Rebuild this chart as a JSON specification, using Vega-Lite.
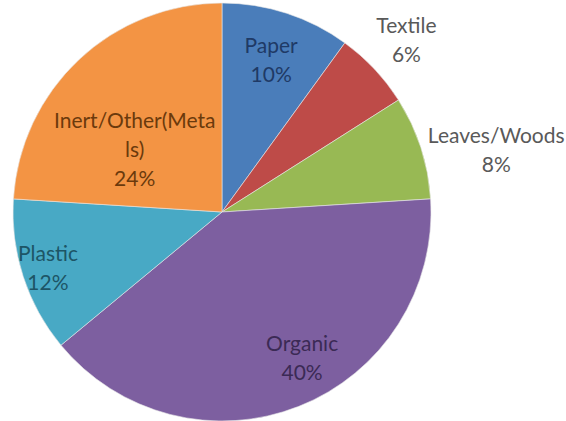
{
  "$schema": "https://vega.github.io/schema/vega-lite/v6.json",
  "width": 444,
  "height": 424,
  "padding": {"left": 0, "top": 0, "right": 122, "bottom": 0},
  "autosize": {"type": "none"},
  "background": "#ffffff",
  "config": {"view": {"stroke": null}, "text": {"font": "Lato", "fontSize": 21, "lineBreak": "|", "lineHeight": 29, "align": "center", "baseline": "middle"}},
  "data": {
    "values": [
      {"idx": 1, "category": "Paper", "pct": 10, "label": "Paper|10%"},
      {"idx": 2, "category": "Textile", "pct": 6, "label": "Textile|6%"},
      {"idx": 3, "category": "Leaves/Woods", "pct": 8, "label": "Leaves/Woods|8%"},
      {"idx": 4, "category": "Organic", "pct": 40, "label": "Organic|40%"},
      {"idx": 5, "category": "Plastic", "pct": 12, "label": "Plastic|12%"},
      {"idx": 6, "category": "Inert/Other(Metals)", "pct": 24, "label": "Inert/Other(Meta|ls)|24%"}
    ]
  },
  "encoding": {
    "theta": {"field": "pct", "type": "quantitative", "stack": true},
    "order": {"field": "idx", "type": "quantitative"}
  },
  "layer": [
    {
      "mark": {"type": "arc", "outerRadius": 209, "stroke": "#e8e8e8", "strokeWidth": 0.6},
      "encoding": {
        "color": {
          "field": "category",
          "type": "nominal",
          "scale": {
            "domain": ["Paper", "Textile", "Leaves/Woods", "Organic", "Plastic", "Inert/Other(Metals)"],
            "range": ["#4a7dba", "#be4b48", "#98b954", "#7d5fa0", "#48a9c5", "#f39444"]
          },
          "legend": null
        }
      }
    },
    {
      "mark": {"type": "text", "radius": 159, "color": "#1f3a66", "dy": -14},
      "encoding": {"text": {"condition": {"test": "datum.category === 'Paper'", "field": "label"}, "value": ""}}
    },
    {
      "mark": {"type": "text", "radius": 253, "color": "#595959", "dy": -12},
      "encoding": {"text": {"condition": {"test": "datum.category === 'Textile'", "field": "label"}, "value": ""}}
    },
    {
      "mark": {"type": "text", "radius": 281, "color": "#595959", "dx": 7, "dy": 12},
      "encoding": {"text": {"condition": {"test": "datum.category === 'Leaves/Woods'", "field": "label"}, "value": ""}}
    },
    {
      "mark": {"type": "text", "radius": 166, "color": "#3b2a55", "dx": 19, "dy": -21},
      "encoding": {"text": {"condition": {"test": "datum.category === 'Organic'", "field": "label"}, "value": ""}}
    },
    {
      "mark": {"type": "text", "radius": 183, "color": "#1d5566", "dy": -14},
      "encoding": {"text": {"condition": {"test": "datum.category === 'Plastic'", "field": "label"}, "value": ""}}
    },
    {
      "mark": {"type": "text", "radius": 110, "color": "#6b3a0c", "dx": -12, "dy": -10},
      "encoding": {"text": {"condition": {"test": "datum.category === 'Inert/Other(Metals)'", "field": "label"}, "value": ""}}
    }
  ]
}
